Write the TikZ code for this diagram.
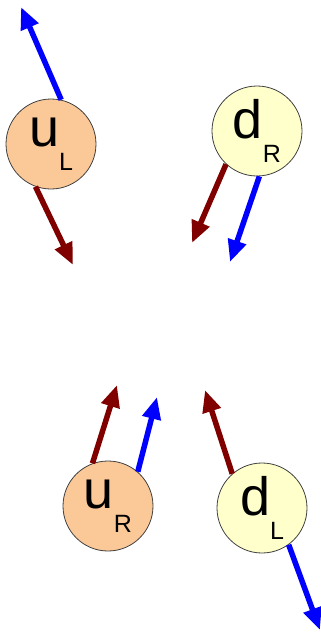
\documentclass[tikz,border=0pt]{standalone}
\usepackage{fontspec}
\setmainfont{Liberation Sans}
\usetikzlibrary{arrows.meta}

\definecolor{uorange}{RGB}{251,201,152}
\definecolor{dyellow}{RGB}{255,255,204}
\definecolor{spinred}{RGB}{128,0,0}
\definecolor{spinblue}{RGB}{0,0,255}

\newcommand{\quarklabel}[2]{{\fontsize{54}{54}\selectfont #1}\raisebox{-24pt}{\fontsize{25}{25}\selectfont #2}}

\begin{document}
\begin{tikzpicture}[x=1pt,y=-1pt,
   quark/.style={circle,draw=black!75,line width=0.8pt,minimum size=90pt,inner sep=0pt},
   spin/.style={line width=5.5pt,-{Triangle[length=22pt,width=18pt]}}]
   \useasboundingbox (0,0) rectangle (321,633);

   \node[quark,fill=uorange]  (uL) at (51,144)  {\quarklabel{u}{L}};
   \node[quark,fill=dyellow]  (dR) at (257,131) {\quarklabel{d}{R}};
   \node[quark,fill=uorange]  (uR) at (108,506) {\quarklabel{u}{R}};
   \node[quark,fill=dyellow]  (dL) at (262,508) {\quarklabel{d}{L}};

   \coordinate (uLb) at (21,7);
   \coordinate (uLr) at (73,265);
   \coordinate (dRr) at (192,243);
   \coordinate (dRb) at (230,262);
   \coordinate (uRr) at (117,385);
   \coordinate (uRb) at (157,397);
   \coordinate (dLr) at (205,390);
   \coordinate (dLb) at (320,630);

   \path (uL.77)   edge[spin,spinblue] (uLb)
         (uL.-110) edge[spin,spinred]  (uLr)
         (dR.-133) edge[spin,spinred]  (dRr)
         (dR.-87)  edge[spin,spinblue] (dRb)
         (uR.110)  edge[spin,spinred]  (uRr)
         (uR.49)   edge[spin,spinblue] (uRb)
         (dL.131)  edge[spin,spinred]  (dLr)
         (dL.-54)  edge[spin,spinblue] (dLb);
\end{tikzpicture}
\end{document}
